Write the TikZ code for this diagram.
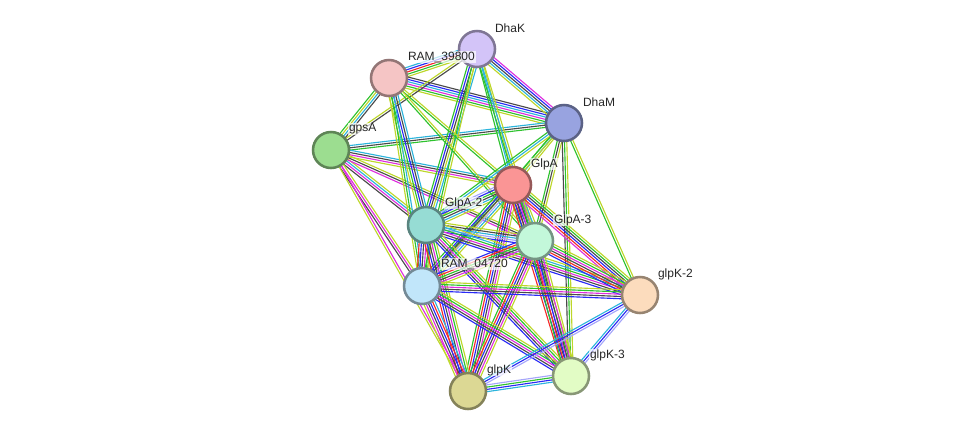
\documentclass[tikz,border=0pt]{standalone}
\usepackage{fontspec}
\setmainfont{Liberation Sans}
\usetikzlibrary{calc,backgrounds}
% evidence colours
\definecolor{eg}{HTML}{2ec22e}
\definecolor{er}{HTML}{f52a2a}
\definecolor{eb}{HTML}{2a2af5}
\definecolor{ek}{HTML}{4a4a4a}
\definecolor{em}{HTML}{de2ede}
\definecolor{ec}{HTML}{2cb4dc}
\definecolor{ey}{HTML}{bdd62a}
\definecolor{el}{HTML}{a6a6fa}
% protein colours
\definecolor{pDhaK}{HTML}{d3c4f8}
\definecolor{pRamA}{HTML}{f5c5c5}
\definecolor{pDhaM}{HTML}{98a3e0}
\definecolor{pGpsA}{HTML}{9cdd90}
\definecolor{pGlpA}{HTML}{fa9595}
\definecolor{pGlpAb}{HTML}{96dcd4}
\definecolor{pGlpAc}{HTML}{c3f8da}
\definecolor{pRamB}{HTML}{c1e6fa}
\definecolor{pGlpKb}{HTML}{fcdcbd}
\definecolor{pGlpKc}{HTML}{e2fcc5}
\definecolor{pGlpK}{HTML}{dcd894}
\tikzset{
  link/.style={line width=0.85pt},
  prot/.style={circle, minimum size=27pt, inner sep=0pt, line width=1.9pt,
               fill=#1, draw=#1!60!black},
  tag/.style={anchor=west, font=\fontsize{9}{10}\selectfont, inner sep=0.6pt,
              text=black!85, fill=white, fill opacity=0.7, text opacity=1},
}
\newcommand{\edge}[3]{%
  \foreach \c [count=\k] in {#3}{\xdef\ncol{\k}}%
  \foreach \c [count=\i] in {#3}{%
    \pgfmathsetmacro\o{(\i-(\ncol+1)/2)*1.7}
    \draw[link,color=\c] ($(#1)!\o pt!90:(#2)$) -- ($(#2)!\o pt!-90:(#1)$);}}

\begin{document}
\begin{tikzpicture}[x=0.75pt,y=-0.75pt]
  \useasboundingbox (0,0) rectangle (975,437);
  % proteins
  \node[prot=pDhaK] (dhak) at (477,49) {};
  \node[prot=pRamA] (ram39800) at (389,78) {};
  \node[prot=pDhaM] (dham) at (564,123) {};
  \node[prot=pGpsA] (gpsa) at (331,150) {};
  \node[prot=pGlpA] (glpa) at (513,185) {};
  \node[prot=pGlpAb] (glpa2) at (426,225) {};
  \node[prot=pGlpAc] (glpa3) at (535,241) {};
  \node[prot=pRamB] (ram04720) at (422,286) {};
  \node[prot=pGlpKb] (glpk2) at (640,295) {};
  \node[prot=pGlpKc] (glpk3) at (571,376) {};
  \node[prot=pGlpK] (glpk) at (468,391) {};
  % evidence lines
  \begin{scope}[on background layer]
  \edge{ram39800}{dhak}{ey,eg,er,eb,ec}
  \edge{ram39800}{dham}{ey,eg,em,ec,eb,ek}
  \edge{dhak}{dham}{ey,ec,ek,eb,em}
  \edge{gpsa}{dhak}{ek,ey}
  \edge{gpsa}{ram39800}{ek,ec,ey,eg}
  \edge{gpsa}{dham}{eg,ek,ec}
  \edge{gpsa}{glpa}{ey,em,ek,ec}
  \edge{gpsa}{glpa2}{ek,em,ec,ey}
  \edge{gpsa}{glpa3}{em,ek,ey}
  \edge{gpsa}{ram04720}{ek,em,ey}
  \edge{gpsa}{glpk}{ey,em}
  \edge{dhak}{glpa}{eg,ec,ey}
  \edge{dhak}{glpa2}{eg,eb,ek,ey,ec}
  \edge{dhak}{glpa3}{eg,ec,ey}
  \edge{dhak}{ram04720}{eg,ey}
  \edge{ram39800}{glpa}{eg,ey}
  \edge{ram39800}{glpa2}{ey,eg,eb,ek,ec}
  \edge{ram39800}{glpa3}{eg,ey}
  \edge{ram39800}{ram04720}{ey,eg,ec}
  \edge{dham}{glpa}{eg,ec,ey}
  \edge{dham}{glpa2}{eg,ec,ey}
  \edge{dham}{glpa3}{eg,ek,ey}
  \edge{dham}{ram04720}{eg,ey}
  \edge{dham}{glpk2}{eg,ey}
  \edge{dham}{glpk3}{ek,eg,ey}
  \edge{glpa}{glpa2}{el,eb,eg,ek,ec,ey}
  \edge{glpa}{glpa3}{eg,er,eb,ek,em,ec,ey}
  \edge{glpa}{ram04720}{eg,eb,ek,el,ec,ey}
  \edge{glpa}{glpk2}{em,er,eb,ek,eg,ey}
  \edge{glpa}{glpk}{eg,er,eb,ek,em,ey}
  \edge{glpa}{glpk3}{er,eb,ek,em,eg,ey}
  \edge{glpa2}{glpa3}{eb,el,ec,ek,ey}
  \edge{glpa2}{ram04720}{er,eb,ek,em,eg,ey}
  \edge{glpa2}{glpk2}{eb,ek,em,eg,ec,ey}
  \edge{glpa2}{glpk}{er,eb,ek,em,eg,ey}
  \edge{glpa2}{glpk3}{eb,ek,em,eg,ey}
  \edge{glpa3}{ram04720}{eb,er,eg,ek,em,ey}
  \edge{glpa3}{glpk2}{eb,er,ek,em,eg,ey}
  \edge{glpa3}{glpk}{eg,er,eb,ek,em,ey}
  \edge{glpa3}{glpk3}{eg,er,eb,ek,em,ey}
  \edge{ram04720}{glpk2}{eb,ek,em,eg,ey}
  \edge{ram04720}{glpk}{ey,em,ek,eb,er,ec}
  \edge{ram04720}{glpk3}{eb,ek,em,eg,ey}
  \edge{glpk2}{glpk}{ec,eb,el}
  \edge{glpk2}{glpk3}{ec,eb,el}
  \edge{glpk}{glpk3}{ec,eb,eg,el}
  \end{scope}
  % labels
  \node[tag] (tdhak) at (494,28) {DhaK};
  \node[tag] (tram39800) at (407,57) {RAM\_39800};
  \node[tag] (tdham) at (582,102) {DhaM};
  \node[tag] (tgpsa) at (348,129) {gpsA};
  \node[tag] (tglpa) at (530,164) {GlpA};
  \node[tag] (tglpa2) at (444,203) {GlpA-2};
  \node[tag] (tglpa3) at (553,220) {GlpA-3};
  \node[tag] (tram04720) at (440,264) {RAM\_04720};
  \node[tag] (tglpk2) at (657,274) {glpK-2};
  \node[tag] (tglpk3) at (589,355) {glpK-3};
  \node[tag] (tglpk) at (486,370) {glpK};
\end{tikzpicture}
\end{document}
